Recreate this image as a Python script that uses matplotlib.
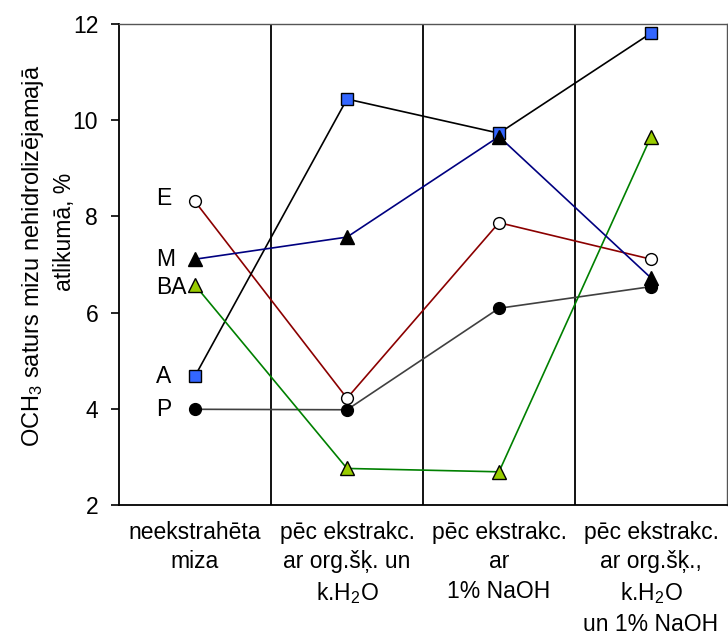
import matplotlib
matplotlib.use("Agg")
import matplotlib.pyplot as plt

plt.rcParams['font.family'] = ['Liberation Sans', 'DejaVu Sans']
plt.rcParams['mathtext.fontset'] = 'custom'
plt.rcParams['mathtext.rm'] = 'Liberation Sans'
plt.rcParams['mathtext.default'] = 'regular'

FS = 16.5

categories = [
    "neekstrahēta\nmiza",
    "pēc ekstrakc.\nar org.šķ. un\nk.H$_2$O",
    "pēc ekstrakc.\nar\n1% NaOH",
    "pēc ekstrakc.\nar org.šķ.,\nk.H$_2$O\nun 1% NaOH",
]

series_names = ["P", "E", "A", "BA", "M"]
P_vals = [3.99, 3.98, 6.09, 6.54]
E_vals = [8.31, 4.22, 7.87, 7.11]
A_vals = [4.68, 10.44, 9.73, 11.81]
BA_vals = [6.57, 2.76, 2.69, 9.66]
M_vals = [7.11, 7.57, 9.66, 6.72]

y_ticks = [2, 4, 6, 8, 10, 12]

styles = {
    "P": dict(color="#404040", marker="o", mfc="black", mec="black", ms=8.5),
    "E": dict(color="#8B0000", marker="o", mfc="white", mec="black", ms=8.5),
    "A": dict(color="black", marker="s", mfc="#3366FF", mec="black", ms=8),
    "BA": dict(color="#008000", marker="^", mfc="#99CC00", mec="black", ms=9.5),
    "M": dict(color="#000080", marker="^", mfc="black", mec="black", ms=9.5),
}
values = {"P": P_vals, "E": E_vals, "A": A_vals, "BA": BA_vals, "M": M_vals}

fig = plt.figure(figsize=(7.28, 6.36), dpi=100)
ax = fig.add_axes([119 / 728, 1 - 505 / 636, (727 - 119) / 728, (505 - 24) / 636])

x = list(range(len(categories)))
for name in series_names:
    st = styles[name]
    ax.plot(x, values[name], color=st["color"], lw=1.2, marker=st["marker"],
            markerfacecolor=st["mfc"], markeredgecolor=st["mec"],
            markersize=st["ms"], markeredgewidth=1.0, zorder=3)

# series names next to the first points
label_y = {"E": E_vals[0] + 0.07, "M": M_vals[0], "BA": BA_vals[0] - 0.05,
           "A": A_vals[0], "P": P_vals[0]}
for name, yv in label_y.items():
    ax.text(-0.255, yv, name, fontsize=FS, ha="left", va="center", zorder=4)

ax.set_xlim(-0.5, len(categories) - 0.5)
ax.set_ylim(2, 12)
ax.set_yticks(y_ticks)
ax.set_yticklabels([str(t) for t in y_ticks], fontsize=FS)
ax.tick_params(axis="y", direction="out", length=6, width=1.2, pad=9)
ax.set_xticks([])

# dividers between categories
for b in [0.5, 1.5, 2.5]:
    ax.axvline(b, color="black", lw=1.3, zorder=1)

for side in ["left", "bottom"]:
    ax.spines[side].set_color("black")
    ax.spines[side].set_linewidth(1.3)
for side in ["top", "right"]:
    ax.spines[side].set_color("#555555")
    ax.spines[side].set_linewidth(1.0)

for i, cat in enumerate(categories):
    ax.text(i, -0.033, cat, transform=ax.get_xaxis_transform(), ha="center",
            va="top", fontsize=FS, linespacing=1.36)

fig.text(33 / 728, 1 - 256 / 636, "OCH$_3$ saturs mizu nehidrolizējamajā",
         rotation=90, ha="center", va="center", fontsize=17)
fig.text(65 / 728, 1 - 232 / 636, "atlikumā, %",
         rotation=90, ha="center", va="center", fontsize=FS)

fig.savefig("out.png", dpi=100)
